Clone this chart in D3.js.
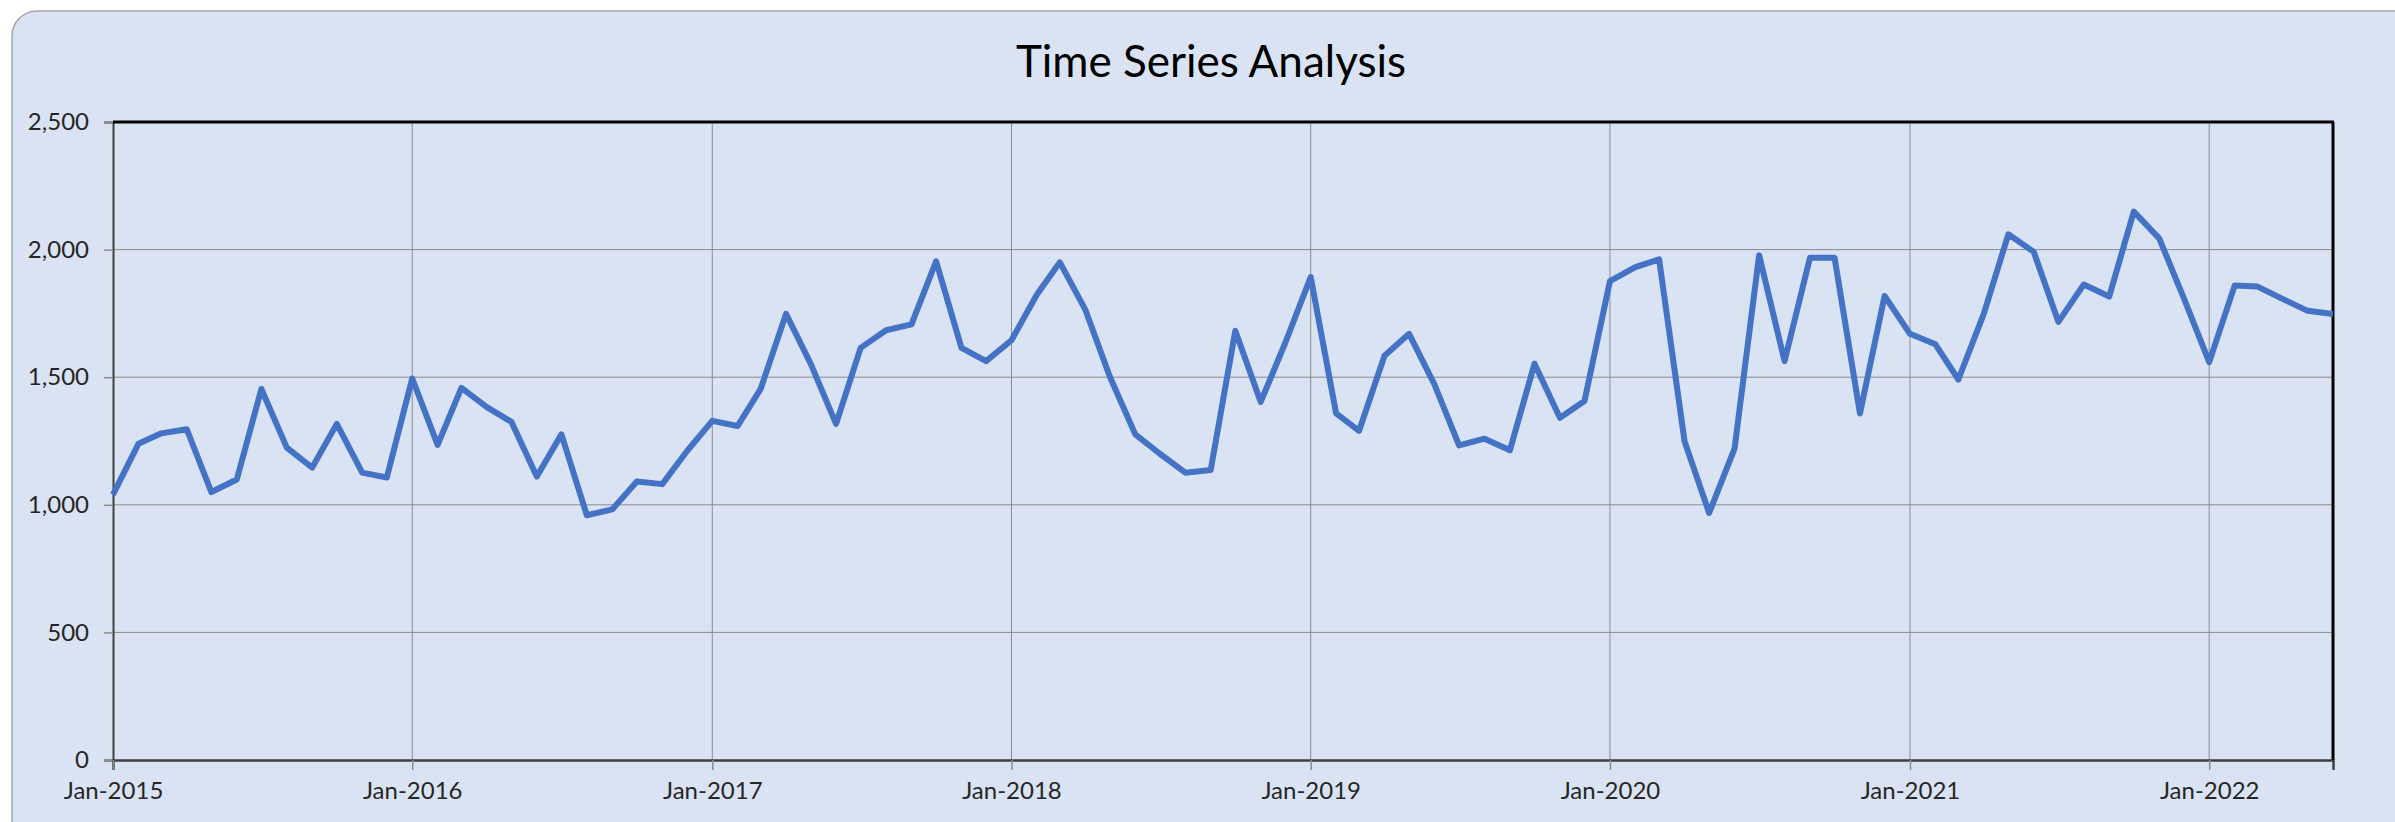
<!DOCTYPE html>
<html>
<head>
<meta charset="utf-8">
<script src="https://cdn.jsdelivr.net/npm/d3@7"></script>
<style>
  html, body { margin: 0; padding: 0; background: #ffffff; }
  svg { display: block; }
</style>
</head>
<body>
<svg id="chart" width="2395" height="822"></svg>
<script>
// ---- Data (monthly, Jan-2015 .. Jun-2022) ----
const startMonth = "2015-01";
const values = [
  1040, 1239, 1280, 1296, 1050, 1099, 1454, 1224, 1146, 1317, 1126, 1107,
  1495, 1235, 1458, 1383, 1325, 1111, 1276, 959, 982, 1091, 1081, 1210,
  1329, 1309, 1454, 1748, 1553, 1317, 1615, 1684, 1707, 1954, 1615, 1563,
  1645, 1824, 1950, 1765, 1502, 1276, 1200, 1126, 1136, 1682, 1403, 1635,
  1892, 1358, 1290, 1584, 1670, 1471, 1233, 1259, 1214, 1553, 1341, 1407,
  1876, 1931, 1962, 1249, 968, 1220, 1978, 1563, 1968, 1968, 1358, 1818,
  1670, 1629, 1491, 1748, 2060, 1991, 1717, 1863, 1816, 2149, 2044, 1810,
  1559, 1859, 1855, 1806, 1760, 1748
];
const yTicks = [0, 500, 1000, 1500, 2000, 2500];
const title = "Time Series Analysis";

// ---- Build dated series ----
const parse = d3.timeParse("%Y-%m");
const t0 = parse(startMonth);
const series = values.map((v, i) => ({ date: d3.timeMonth.offset(t0, i), value: v }));
const xTicks = d3.timeYear.range(t0, d3.timeDay.offset(series[series.length - 1].date, 1));

// ---- Layout ----
const W = 2395, H = 822;
const plot = { left: 113, right: 2333, top: 122, bottom: 760 };
const svg = d3.select("#chart");
const font = "Lato, 'Open Sans', sans-serif";

// Chart area background
svg.append("rect")
  .attr("x", 12).attr("y", 11)
  .attr("width", W - 12 + 30).attr("height", H - 11 + 30)
  .attr("rx", 25).attr("ry", 25)
  .attr("fill", "#dae3f3")
  .attr("stroke", "#a5a5a5").attr("stroke-width", 1.5);

const x = d3.scaleTime()
  .domain([series[0].date, series[series.length - 1].date])
  .range([plot.left, plot.right]);
const y = d3.scaleLinear().domain([0, 2500]).range([plot.bottom, plot.top]);

// Horizontal gridlines
svg.append("g")
  .selectAll("line").data(yTicks.filter(d => d > 0 && d < 2500)).join("line")
  .attr("x1", plot.left).attr("x2", plot.right)
  .attr("y1", d => y(d)).attr("y2", d => y(d))
  .attr("stroke", "#8c8c8c").attr("stroke-width", 1);

// Vertical gridlines at each January
svg.append("g")
  .selectAll("line").data(xTicks.filter(d => +d > +x.domain()[0])).join("line")
  .attr("x1", d => x(d)).attr("x2", d => x(d))
  .attr("y1", plot.top).attr("y2", plot.bottom)
  .attr("stroke", "#8c8c8c").attr("stroke-width", 1);

// Y axis
const yAxis = svg.append("g")
  .attr("transform", `translate(${plot.left},0)`)
  .call(d3.axisLeft(y).tickValues(yTicks).tickFormat(d3.format(",")).tickSize(9).tickPadding(15));
yAxis.select(".domain").attr("stroke", "#404040").attr("stroke-width", 2);
yAxis.selectAll(".tick line").attr("stroke", "#8c8c8c").attr("stroke-width", 1.5);
yAxis.selectAll(".tick text")
  .attr("font-family", font).attr("font-size", 24).attr("fill", "#262626");

// X axis
const xAxis = svg.append("g")
  .attr("transform", `translate(0,${plot.bottom})`)
  .call(d3.axisBottom(x).tickValues(xTicks).tickFormat(d3.timeFormat("%b-%Y")).tickSize(10).tickPadding(12));
xAxis.select(".domain").attr("stroke", "#404040").attr("stroke-width", 2.5);
xAxis.selectAll(".tick line").attr("stroke", "#8c8c8c").attr("stroke-width", 1.5);
xAxis.selectAll(".tick text")
  .attr("font-family", font).attr("font-size", 24).attr("fill", "#262626");

// Top and right borders of plot area
svg.append("line")
  .attr("x1", plot.left).attr("x2", plot.right + 1)
  .attr("y1", plot.top).attr("y2", plot.top)
  .attr("stroke", "#000").attr("stroke-width", 3);
svg.append("line")
  .attr("x1", plot.right).attr("x2", plot.right)
  .attr("y1", plot.top).attr("y2", plot.bottom)
  .attr("stroke", "#000").attr("stroke-width", 3);

// Line
const line = d3.line().x(d => x(d.date)).y(d => y(d.value));
svg.append("path")
  .datum(series)
  .attr("d", line)
  .attr("fill", "none")
  .attr("stroke", "#4472c4")
  .attr("stroke-width", 6)
  .attr("stroke-linejoin", "round")
  .attr("stroke-linecap", "butt");

// Title
svg.append("text")
  .attr("x", 1211).attr("y", 77)
  .attr("text-anchor", "middle")
  .attr("font-family", font).attr("font-size", 44).attr("fill", "#000")
  .text(title);
</script>
</body>
</html>
